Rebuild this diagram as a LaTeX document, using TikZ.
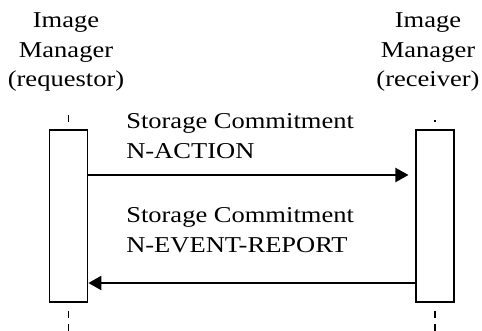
\documentclass[tikz,border=0pt]{standalone}
\usepackage{fontspec}
\setmainfont{Liberation Serif}[FakeStretch=1.17]
\usetikzlibrary{arrows.meta}
\begin{document}
\begin{tikzpicture}[x=0.75pt, y=-0.75pt,
        actor/.style={align=center, anchor=base, inner sep=0, font=\fontsize{17}{22.3}\selectfont},
        msgtext/.style={align=left, anchor=base west, inner sep=0, font=\fontsize{17}{22.8}\selectfont},
        bar/.style={draw, line width=1.3pt, inner sep=0, minimum width=28.5pt, minimum height=129pt},
        msg/.style={line width=1.5pt, -{Triangle[length=9.75pt, width=10.5pt]}},
        life/.style={line width=0.9pt}]
        \useasboundingbox (0, 0) rectangle (482, 331);
        % the two image managers
        \draw (66, 87) node[actor](reqname){Image\\Manager\\(requestor)}
        (428, 87) node[actor](recname){Image\\Manager\\(receiver)};
        \draw (68.5, 216) node[bar](req){}
        (435, 216) node[bar](rec){};
        % life lines
        \coordinate (reqtop) at (68.5, 115);
        \coordinate (rectop) at (435, 120.5);
        \draw[life] (reqtop) -- ++(0, 7);
        \draw[life] (rectop) -- ++(0, 2);
        \draw[life, dash pattern=on 5.5pt off 4.5pt] ([yshift=-6pt]req.south) -- ++(0, 21);
        \draw[life, dash pattern=on 5.5pt off 4.5pt] ([yshift=-6pt]rec.south) -- ++(0, 21);
        % messages
        \draw (126, 159) node[msgtext](action){Storage Commitment\\N-ACTION};
        \draw (126, 253) node[msgtext](report){Storage Commitment\\N-EVENT-REPORT};
        \draw[msg, shorten >=5pt] (req.east |- 0, 175) -- (rec.west |- 0, 175);
        \draw[msg] (rec.west |- 0, 283) -- (req.east |- 0, 283);
    \end{tikzpicture}
\end{document}
